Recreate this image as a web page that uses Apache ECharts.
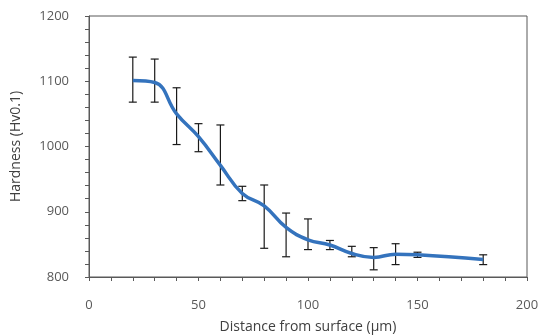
<!DOCTYPE html>
<html>
<head>
<meta charset="utf-8">
<script src="https://cdn.jsdelivr.net/npm/echarts@6/dist/echarts.min.js"></script>
<style>
  html, body { margin: 0; padding: 0; background: #fff; }
  #chart { width: 539px; height: 335px; }
</style>
</head>
<body>
<div id="chart"></div>
<script>
// distance from surface (µm)
const distance = [20, 30, 40, 50, 60, 70, 80, 90, 100, 110, 120, 130, 140, 150, 180]
// mean hardness
const hardness = [1101, 1098, 1050, 1015, 971, 928, 909, 876, 857, 849, 836, 830, 835, 834, 827]
// error bar ends
const errHigh = [1137, 1134, 1090, 1035, 1033, 939, 941, 898, 889, 856, 847, 845, 851, 838, 834]
const errLow = [1068, 1068, 1003, 992, 941, 917, 844, 831, 842, 842, 831, 811, 819, 830, 819]

const font = 'Open Sans'
const axisColor = '#595959'

const myChart = echarts.init(document.getElementById('chart'))

const lineData = distance.map((d, i) => [d, hardness[i]])
const errData = distance.map((d, i) => [d, errLow[i], errHigh[i]])

myChart.setOption({
  animation: false,
  grid: {
    left: 89, right: 12, top: 16, bottom: 58,
    containLabel: false,
    outerBoundsMode: 'none',
    show: true,
    borderColor: axisColor,
    borderWidth: 1,
  },
  xAxis: {
    type: 'value',
    min: 0, max: 200, interval: 10,
    name: 'Distance from surface (μm)',
    nameLocation: 'middle',
    nameGap: 43,
    nameTextStyle: {color: '#404040', fontSize: 14, fontFamily: font},
    axisLine: {show: true, lineStyle: {color: axisColor}},
    axisTick: {show: true, inside: false, length: 4, lineStyle: {color: axisColor}},
    splitLine: {show: false},
    axisLabel: {
      color: '#595959', fontSize: 13, fontFamily: font, margin: 22,
      formatter(v) { return v % 50 === 0 ? String(v) : '' },
    },
  },
  yAxis: {
    type: 'value',
    min: 800, max: 1200, interval: 20,
    name: 'Hardness (Hv0.1)',
    nameLocation: 'middle',
    nameGap: 66,
    nameTextStyle: {color: '#404040', fontSize: 14, fontFamily: font},
    axisLine: {show: true, lineStyle: {color: axisColor}},
    axisTick: {show: true, inside: false, length: 4, lineStyle: {color: axisColor}},
    splitLine: {show: false},
    axisLabel: {
      color: '#595959', fontSize: 13, fontFamily: font, margin: 20,
      formatter(v) { return v % 100 === 0 ? String(v) : '' },
    },
  },
  series: [
    {
      type: 'custom',
      z: 2,
      data: errData,
      renderItem(params, api) {
        const x = api.value(0)
        const lo = api.coord([x, api.value(1)])
        const hi = api.coord([x, api.value(2)])
        const cap = 4
        const style = {stroke: '#1a1a1a', lineWidth: 1.2}
        return {
          type: 'group',
          children: [
            {type: 'line', shape: {x1: hi[0], y1: hi[1], x2: lo[0], y2: lo[1]}, style},
            {type: 'line', shape: {x1: hi[0] - cap, y1: hi[1], x2: hi[0] + cap, y2: hi[1]}, style},
            {type: 'line', shape: {x1: lo[0] - cap, y1: lo[1], x2: lo[0] + cap, y2: lo[1]}, style},
          ],
        }
      },
    },
    {
      type: 'line',
      z: 3,
      data: lineData,
      smooth: 0.45,
      showSymbol: false,
      symbol: 'none',
      lineStyle: {color: '#3473bd', width: 3.5},
    },
  ],
})
</script>
</body>
</html>
